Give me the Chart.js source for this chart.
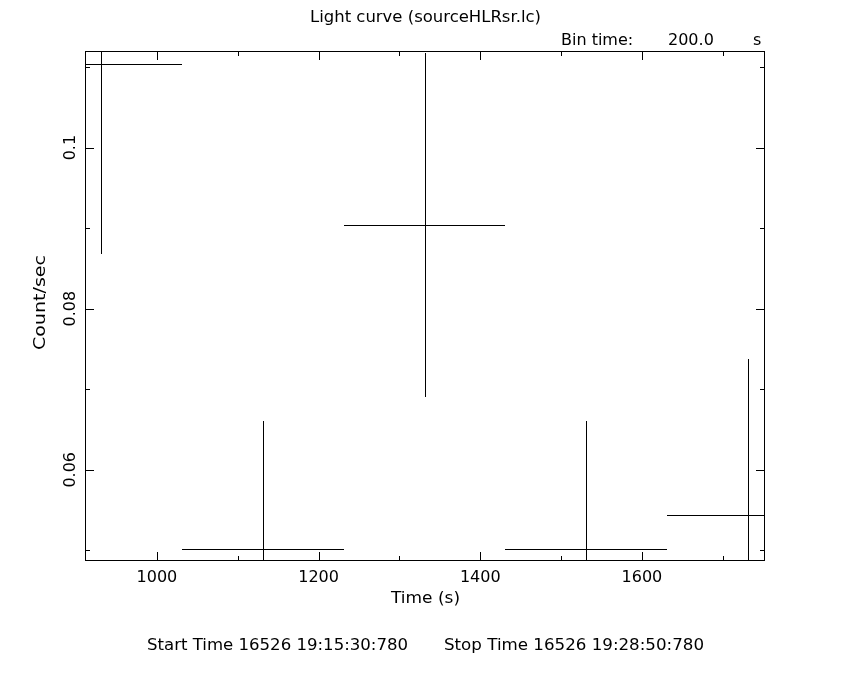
<!DOCTYPE html>
<html>
<head>
<meta charset="utf-8">
<script src="https://cdn.jsdelivr.net/npm/chart.js@4.4.1/dist/chart.umd.min.js"></script>
<style>
  html, body { margin: 0; padding: 0; background: #ffffff; }
  canvas { display: block; }
</style>
</head>
<body>
<canvas id="c" width="850" height="680"></canvas>
<script>
// ---- data ----
const titleText = 'Light curve (sourceHLRsr.lc)';
const binTimeParts = ['Bin time:', '200.0', 's'];
const xAxisTitle = 'Time (s)';
const yAxisTitle = 'Count/sec';
const startTimeText = 'Start Time 16526 19:15:30:780';
const stopTimeText = 'Stop Time 16526 19:28:50:780';

const timeCenters   = [931, 1131, 1331, 1531, 1731];
const binHalfWidths = [100, 100, 100, 100, 100];
const rates         = [0.1104, 0.0502, 0.0904, 0.0502, 0.0544];
const rateErrors    = [0.0236, 0.0159, 0.0214, 0.0159, 0.0193];

const xMajorTicks = [1000, 1200, 1400, 1600];
const xMinorTicks = [1100, 1300, 1500, 1700];
const yMajorTicks = [0.06, 0.08, 0.1];
const yMinorTicks = [0.05, 0.07, 0.09, 0.11];
const xTickLabels = ['1000', '1200', '1400', '1600'];
const yTickLabels = ['0.06', '0.08', '0.1'];

const xLimits = [911, 1751];
const yLimits = [0.0488, 0.112];

const FONT = '16px "DejaVu Sans"';

const points = timeCenters.map((t, i) => ({ x: t, y: rates[i] }));

const px = v => Math.round(v) + 0.5;

// draw text (left-aligned at x) stretched horizontally to a target width
function fitText(ctx, text, x, y, width) {
  const w = ctx.measureText(text).width;
  ctx.save();
  ctx.translate(x, y);
  ctx.scale(width / w, 1);
  ctx.textAlign = 'left';
  ctx.fillText(text, 0, 0);
  ctx.restore();
}

const framePlugin = {
  id: 'framePlugin',
  beforeDraw(chart) {
    const ctx = chart.ctx;
    ctx.save();
    ctx.fillStyle = '#ffffff';
    ctx.fillRect(0, 0, chart.width, chart.height);
    ctx.restore();
  },
  afterDatasetsDraw(chart) {
    const ctx = chart.ctx;
    const xs = chart.scales.x, ys = chart.scales.y;
    const a = chart.chartArea;
    ctx.save();
    ctx.beginPath();
    ctx.rect(a.left, a.top, a.right - a.left + 1, a.bottom - a.top + 1);
    ctx.clip();
    ctx.strokeStyle = '#000000';
    ctx.lineWidth = 1;
    ctx.beginPath();
    timeCenters.forEach((t, i) => {
      const xc = px(xs.getPixelForValue(t));
      const x0 = xs.getPixelForValue(t - binHalfWidths[i]);
      const x1 = xs.getPixelForValue(t + binHalfWidths[i]);
      const yc = px(ys.getPixelForValue(rates[i]));
      const y0 = ys.getPixelForValue(rates[i] + rateErrors[i]);
      const y1 = ys.getPixelForValue(rates[i] - rateErrors[i]);
      ctx.moveTo(Math.round(x0), yc); ctx.lineTo(Math.round(x1), yc);
      ctx.moveTo(xc, Math.round(y0)); ctx.lineTo(xc, Math.round(y1));
    });
    ctx.stroke();
    ctx.restore();
  },
  afterDraw(chart) {
    const ctx = chart.ctx;
    const xs = chart.scales.x, ys = chart.scales.y;
    const a = chart.chartArea;
    const L = Math.round(a.left), R = Math.round(a.right), T = Math.round(a.top), B = Math.round(a.bottom);
    ctx.save();
    ctx.strokeStyle = '#000000';
    ctx.lineWidth = 1;
    // frame
    ctx.strokeRect(L + 0.5, T + 0.5, R - L, B - T);
    // ticks (inward, on all four sides)
    ctx.beginPath();
    const major = 9, minor = 5;
    const xTick = (v, len) => {
      const x = px(xs.getPixelForValue(v));
      ctx.moveTo(x, B + 1); ctx.lineTo(x, B + 1 - len);
      ctx.moveTo(x, T); ctx.lineTo(x, T + len);
    };
    const yTick = (v, len) => {
      const y = px(ys.getPixelForValue(v));
      ctx.moveTo(L, y); ctx.lineTo(L + len, y);
      ctx.moveTo(R + 1, y); ctx.lineTo(R + 1 - len, y);
    };
    xMajorTicks.forEach(v => xTick(v, major));
    xMinorTicks.forEach(v => xTick(v, minor));
    yMajorTicks.forEach(v => yTick(v, major));
    yMinorTicks.forEach(v => yTick(v, minor));
    ctx.stroke();

    // texts
    ctx.fillStyle = '#000000';
    ctx.font = FONT;
    ctx.textBaseline = 'alphabetic';
    fitText(ctx, titleText, 310, 22, 231);
    ctx.textAlign = 'center';
    xMajorTicks.forEach((v, i) => {
      ctx.fillText(xTickLabels[i], xs.getPixelForValue(v), 582);
    });
    fitText(ctx, xAxisTitle, 391, 603, 69);

    ctx.textAlign = 'left';
    ctx.fillText(binTimeParts[0], 561, 45);
    ctx.fillText(binTimeParts[1], 668, 45);
    ctx.fillText(binTimeParts[2], 753, 45);
    fitText(ctx, startTimeText, 147, 650, 261);
    fitText(ctx, stopTimeText, 444, 650, 260);

    // rotated y labels
    ctx.textAlign = 'center';
    yMajorTicks.forEach((v, i) => {
      ctx.save();
      ctx.translate(75, ys.getPixelForValue(v));
      ctx.rotate(-Math.PI / 2);
      ctx.fillText(yTickLabels[i], 0, 0);
      ctx.restore();
    });
    ctx.save();
    ctx.translate(45, 350);
    ctx.rotate(-Math.PI / 2);
    fitText(ctx, yAxisTitle, 0, 0, 95);
    ctx.restore();
    ctx.restore();
  }
};

new Chart(document.getElementById('c'), {
  type: 'scatter',
  data: {
    datasets: [{
      data: points,
      pointRadius: 0,
      showLine: false,
      borderColor: '#000000'
    }]
  },
  options: {
    responsive: false,
    animation: false,
    events: [],
    layout: { padding: { left: 85, top: 51, right: 86, bottom: 120 } },
    plugins: { legend: { display: false }, tooltip: { enabled: false }, title: { display: false } },
    scales: {
      x: { type: 'linear', min: xLimits[0], max: xLimits[1], display: false },
      y: { type: 'linear', min: yLimits[0], max: yLimits[1], display: false }
    }
  },
  plugins: [framePlugin]
});
</script>
</body>
</html>
